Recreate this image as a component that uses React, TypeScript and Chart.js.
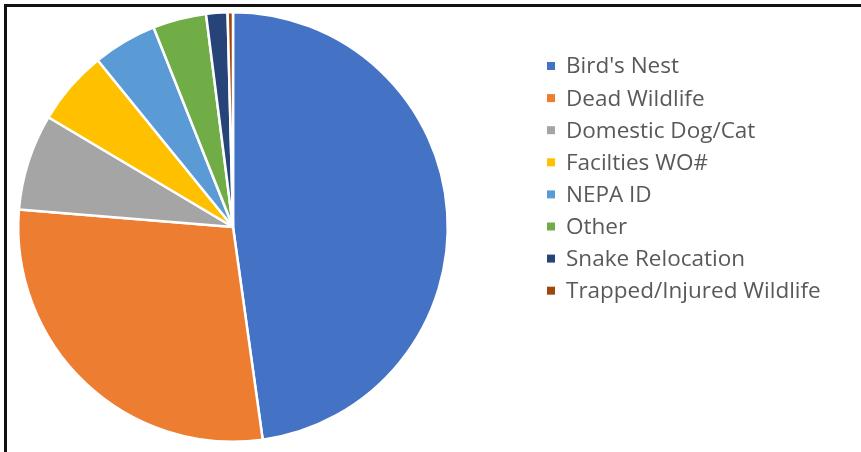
import React, { useEffect, useRef } from "react";
import { Chart, registerables } from "chart.js";

Chart.register(...registerables);

const categories = [
  "Bird's Nest",
  "Dead Wildlife",
  "Domestic Dog/Cat",
  "Facilties WO#",
  "NEPA ID",
  "Other",
  "Snake Relocation",
  "Trapped/Injured Wildlife",
];
const counts = [119, 71, 18, 14, 12, 10, 4, 1];
const colors = [
  "#4472C4",
  "#ED7D31",
  "#A5A5A5",
  "#FFC000",
  "#5B9BD5",
  "#70AD47",
  "#264478",
  "#9E480E",
];

const legendPlugin = {
  id: "customLegend",
  afterDraw(chart: any) {
    const ctx = chart.ctx;
    const labels: string[] = chart.data.labels;
    const bg: string[] = chart.data.datasets[0].backgroundColor;
    ctx.save();
    ctx.font = '22.5px "Open Sans", "Noto Sans", sans-serif';
    ctx.textBaseline = "middle";
    ctx.textAlign = "left";
    labels.forEach((lab, i) => {
      const y = 66 + i * 32.1;
      ctx.fillStyle = bg[i];
      ctx.fillRect(547, y - 4, 8, 8);
      ctx.fillStyle = "#595959";
      ctx.fillText(lab, 566, y + 1);
    });
    ctx.restore();
  },
};

export default function App() {
  const ref = useRef<HTMLCanvasElement | null>(null);
  useEffect(() => {
    if (!ref.current) return;
    const chart = new Chart(ref.current, {
      type: "pie",
      data: {
        labels: categories,
        datasets: [
          {
            data: counts,
            backgroundColor: colors,
            borderColor: "#ffffff",
            borderWidth: 2.5,
          },
        ],
      },
      options: {
        animation: false,
        responsive: false,
        layout: { padding: { left: 17, top: 11, right: 412, bottom: 9 } },
        plugins: {
          legend: { display: false },
          tooltip: { enabled: false },
        },
      },
      plugins: [legendPlugin],
    });
    return () => chart.destroy();
  }, []);
  return (
    <div
      style={{
        position: "absolute",
        left: 0,
        top: 0,
        width: 861,
        height: 452,
        background: "#fff",
      }}
    >
      <div
        style={{
          position: "absolute",
          left: 4,
          top: 4,
          width: 857,
          height: 448,
          borderTop: "3px solid #111",
          borderLeft: "3px solid #111",
          boxSizing: "border-box",
        }}
      />
      <canvas
        ref={ref}
        width={861}
        height={452}
        style={{ position: "absolute", left: 0, top: 0 }}
      />
    </div>
  );
}
